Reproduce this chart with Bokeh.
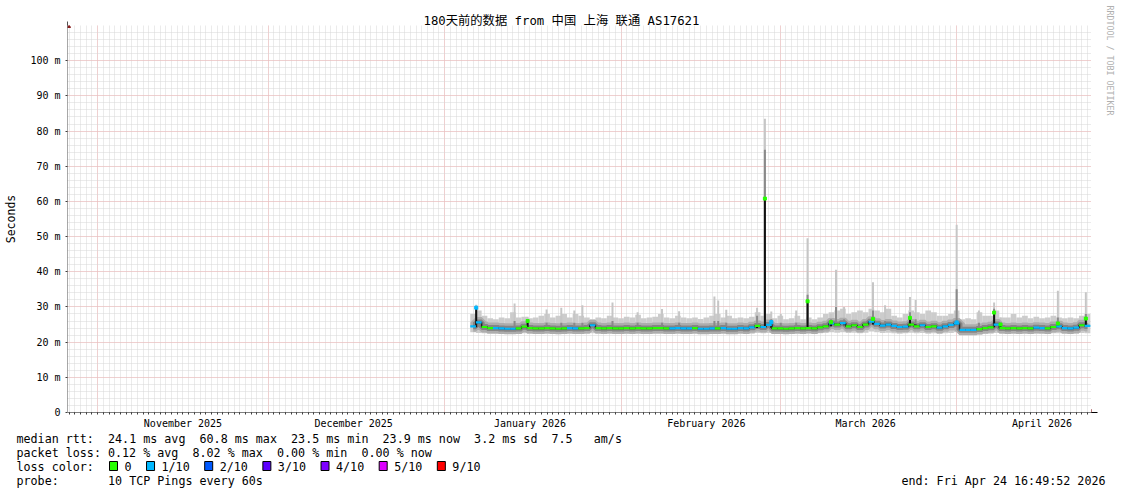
import re
import pandas as pd
from bokeh.plotting import figure
from bokeh.layouts import column, row
from bokeh.models import (Range1d, FixedTicker, DatetimeTickFormatter, CustomJSTickFormatter,
                          Arrow, NormalHead, ColumnDataSource, Title)
from bokeh.core.properties import value
from bokeh.embed import file_html
from bokeh.resources import INLINE

# ------------------------------------------------------------------ data
TITLE = "180天前的数据 from 中国 上海 联通 AS17621"
Y_LABEL = "Seconds"
WATERMARK = "RRDTOOL / TOBI OETIKER"
END_TIME = "2026-04-24 16:49:52"
SPAN_DAYS = 180
Y_MAX_MS = 110
Y_TICKS_MS = [0, 10, 20, 30, 40, 50, 60, 70, 80, 90, 100]
Y_MINOR_MS = list(range(0, 111, 2))

FIRST_DAY = "2026-01-06"   # daily bins, one value per day
day_median = [24.5, 25.6, 24.3, 24.0, 24.0, 23.9, 23.8, 23.8, 23.9, 24.4,
              24.0, 23.9, 23.9, 24.0, 23.9, 23.8, 23.9, 24.0, 23.9, 23.9,
              24.0, 24.8, 24.0, 23.9, 24.0, 23.9, 23.9, 24.0, 23.9, 24.0,
              23.9, 23.9, 24.0, 24.0, 23.9, 23.9, 24.0, 23.9, 23.9, 24.0,
              23.8, 23.8, 23.9, 23.9, 24.0, 23.8, 23.8, 24.0, 23.9, 24.2,
              24.6, 24.3, 24.9, 23.9, 23.9, 23.8, 23.9, 24.0, 23.9, 24.0,
              23.9, 24.2, 24.5, 25.3, 25.0, 25.4, 24.5, 24.8, 24.3, 25.0,
              25.8, 25.2, 24.7, 25.0, 24.6, 24.3, 24.4, 25.0, 24.5, 24.8,
              24.3, 24.5, 24.1, 24.5, 24.9, 25.3, 23.5, 23.5, 23.5, 23.7,
              24.0, 24.2, 25.0, 24.0, 23.9, 24.0, 23.9, 24.0, 23.9, 24.1,
              24.0, 23.9, 24.3, 24.5, 24.0, 23.9, 24.1, 24.8, 24.6]
day_max = [28.0, 29.0, 27.5, 26.8, 26.5, 27.0, 26.8, 28.5, 27.0, 27.2,
           26.8, 27.0, 27.5, 28.0, 27.0, 27.5, 28.0, 27.0, 28.0, 27.5,
           27.0, 26.5, 27.0, 26.8, 27.5, 27.0, 26.8, 27.2, 27.0, 27.8,
           26.8, 27.0, 27.2, 28.0, 27.0, 26.8, 27.5, 27.0, 26.8, 27.0,
           26.6, 27.0, 27.5, 28.0, 27.0, 27.5, 26.8, 27.0, 26.8, 27.2,
           28.5, 27.5, 28.0, 26.8, 27.5, 26.5, 26.8, 27.5, 26.5, 27.0,
           26.5, 27.0, 28.0, 28.5, 29.0, 29.5, 28.0, 28.5, 29.0, 28.5,
           29.5, 29.0, 28.5, 29.5, 27.5, 27.0, 28.0, 29.0, 28.5, 28.0,
           29.0, 28.5, 27.5, 27.5, 28.0, 29.0, 26.5, 26.8, 26.5, 28.5,
           27.5, 27.5, 29.0, 27.0, 27.0, 28.0, 27.0, 27.5, 26.8, 27.2,
           26.8, 27.0, 27.5, 27.0, 26.8, 27.0, 26.8, 27.5, 28.0]
day_min = [22.8, 22.6, 22.5, 22.4, 22.4, 22.3, 22.3, 22.4, 22.4, 22.5,
           22.4, 22.4, 22.3, 22.4, 22.4, 22.3, 22.4, 22.4, 22.3, 22.4,
           22.4, 22.5, 22.4, 22.3, 22.4, 22.4, 22.4, 22.3, 22.4, 22.4,
           22.3, 22.4, 22.4, 22.4, 22.3, 22.4, 22.4, 22.3, 22.3, 22.4,
           22.3, 22.3, 22.4, 22.4, 22.4, 22.3, 22.3, 22.4, 22.3, 22.4,
           22.6, 22.5, 22.6, 22.4, 22.4, 22.3, 22.4, 22.4, 22.4, 22.5,
           22.4, 22.5, 22.6, 22.8, 22.7, 22.8, 22.6, 22.7, 22.5, 22.7,
           23.0, 22.8, 22.6, 22.7, 22.5, 22.4, 22.5, 22.7, 22.5, 22.6,
           22.4, 22.5, 22.3, 22.5, 22.6, 22.8, 22.1, 22.1, 22.1, 22.2,
           22.3, 22.4, 22.6, 22.4, 22.3, 22.4, 22.3, 22.4, 22.3, 22.4,
           22.4, 22.3, 22.5, 22.5, 22.4, 22.3, 22.4, 22.6, 22.5]
day_loss = [1, 1, 0, 0, 1, 1, 1, 1, 0, 0,
            0, 0, 0, 0, 0, 0, 0, 1, 1, 0,
            0, 1, 0, 0, 0, 0, 0, 0, 0, 0,
            0, 0, 0, 0, 0, 1, 1, 1, 1, 0,
            1, 1, 1, 0, 1, 1, 1, 1, 1, 1,
            0, 1, 1, 0, 0, 0, 0, 0, 0, 0,
            0, 0, 0, 1, 0, 1, 0, 0, 0, 0,
            1, 1, 1, 1, 1, 1, 1, 0, 0, 1,
            0, 0, 1, 1, 1, 1, 1, 1, 1, 0,
            0, 0, 1, 0, 0, 0, 0, 0, 0, 1,
            1, 0, 0, 1, 1, 1, 1, 0, 1]

# short events (narrow spikes)
spike_time = ["2026-01-06 13:00", "2026-01-13 07:00", "2026-01-15 14:00", "2026-01-18 22:00",
              "2026-01-21 12:00", "2026-01-23 19:00", "2026-01-25 05:00", "2026-01-30 12:00",
              "2026-02-03 22:00", "2026-02-08 05:00", "2026-02-11 05:00", "2026-02-17 10:00",
              "2026-02-18 02:00", "2026-02-19 12:00", "2026-02-24 22:00", "2026-02-26 07:00",
              "2026-02-27 10:00", "2026-03-01 02:00", "2026-03-03 19:00", "2026-03-05 19:00",
              "2026-03-09 22:00", "2026-03-10 19:00", "2026-03-12 05:00", "2026-03-17 07:00",
              "2026-03-19 10:00", "2026-03-23 19:00", "2026-03-24 19:00", "2026-04-01 00:00",
              "2026-04-04 22:00", "2026-04-07 14:00", "2026-04-08 17:00", "2026-04-18 19:00",
              "2026-04-23 17:00"]
spike_base = [24.2, 23.9, 24.0, 23.9, 23.9, 23.9, 23.9, 23.9, 23.9, 24.0, 23.9, 23.8,
              23.8, 23.8, 24.0, 24.0, 24.0, 23.9, 23.9, 24.0, 24.5, 25.0, 24.8, 25.0,
              24.8, 24.5, 24.7, 25.0, 23.5, 24.2, 24.0, 24.2, 24.8]
spike_median = [29.8, 24.0, 26.0, 24.0, 24.0, 24.0, 24.0, 24.0, 24.0, 24.0, 24.0, 23.9,
                23.9, 23.9, 24.5, 60.8, 25.7, 23.9, 24.0, 31.6, 25.7, 25.2, 25.0, 26.6,
                24.8, 26.9, 25.0, 25.6, 23.6, 28.4, 25.0, 25.3, 26.7]
spike_dark = [30.0, 26.0, 26.5, 25.5, 25.5, 25.5, 25.5, 26.0, 25.5, 25.5, 25.5, 26.0,
              26.0, 25.5, 27.5, 74.7, 26.5, 25.5, 25.5, 33.5, 26.5, 30.0, 26.5, 29.0,
              26.0, 28.5, 26.5, 35.0, 25.5, 29.5, 25.5, 27.0, 28.0]
spike_max = [30.6, 31.0, 27.2, 29.3, 29.8, 29.0, 30.5, 31.3, 28.5, 29.4, 28.8, 33.0,
             31.8, 29.2, 29.8, 83.5, 28.7, 28.0, 29.0, 49.5, 28.0, 40.6, 30.0, 37.0,
             30.5, 32.8, 32.0, 53.4, 29.0, 31.3, 27.0, 34.6, 34.2]
spike_loss = [1, 0, 0, 0, 0, 0, 0, 0, 0, 0, 0, 1, 1, 1, 0, 0, 1, 0, 0, 0, 0, 1, 0, 0,
              1, 0, 0, 1, 1, 0, 0, 0, 0]

loss_names = ["0", "1/10", "2/10", "3/10", "4/10", "5/10", "9/10"]
loss_colors = ["#26ff00", "#00b8ff", "#0059ff", "#5e00ff", "#7e00ff", "#dd00ff", "#ff0000"]

LEGEND_RTT = "median rtt:  24.1 ms avg  60.8 ms max  23.5 ms min  23.9 ms now  3.2 ms sd  7.5   am/s"
LEGEND_LOSS = "packet loss: 0.12 % avg  8.02 % max  0.00 % min  0.00 % now"
LEGEND_COLOR = "loss color:"
LEGEND_PROBE = "probe:       10 TCP Pings every 60s"
END_TEXT = "end: Fri Apr 24 16:49:52 2026"

# ------------------------------------------------------------------ layout / style
MONO = "'DejaVu Sans Mono', 'Noto Sans CJK SC'"
PAGE_W, PAGE_H = 1121, 494
MAIN_H = 432
FRAME_L, FRAME_R, FRAME_T, FRAME_B = 67, 1091, 25, 412   # page pixels
CHAR_W = 7.04
LEGEND_FS = "11.7px"

end = pd.Timestamp(END_TIME)
start = end - pd.Timedelta(days=SPAN_DAYS)

p = figure(width=PAGE_W, height=MAIN_H, x_axis_type="datetime",
           x_range=Range1d(start, end), y_range=Range1d(0, Y_MAX_MS),
           output_backend="svg", toolbar_location=None, title=TITLE,
           min_border_left=FRAME_L, min_border_right=PAGE_W - FRAME_R,
           min_border_top=FRAME_T, min_border_bottom=MAIN_H - FRAME_B,
           background_fill_color="white", border_fill_color="white",
           outline_line_color=None)

p.title.align = "left"
p.title.offset = 423 - FRAME_L
p.title.standoff = -5
p.title.vertical_align = "bottom"
p.title.text_font = MONO
p.title.text_font_size = "12.3px"
p.title.text_font_style = "normal"
p.title.text_color = "#000000"

# right side: spacer then vertical watermark
p.add_layout(Title(text=" ", text_font=MONO, text_font_size="10px", standoff=0,
                   text_color="#ffffff"), "right")
p.add_layout(Title(text=WATERMARK, align="left", offset=5 - FRAME_T, standoff=0,
                   vertical_align="bottom", text_font=MONO, text_font_size="8.3px",
                   text_font_style="normal", text_color="#b0b0b0"), "right")

# ticks and grid
month_starts = pd.date_range(start.normalize(), end, freq="MS")
month_mid = [m + pd.Timedelta(days=15) for m in month_starts]
days = pd.date_range(start.normalize() + pd.Timedelta(days=1), end, freq="D")
to_ms = lambda idx: [float(pd.Timestamp(t).value // 10**6) for t in idx]

p.xgrid.ticker = FixedTicker(ticks=to_ms(month_starts), minor_ticks=to_ms(days))
p.ygrid.ticker = FixedTicker(ticks=Y_TICKS_MS, minor_ticks=Y_MINOR_MS)
for g in (p.xgrid[0], p.ygrid[0]):
    g.grid_line_color = "#f3b4b4"
    g.grid_line_dash = "1 1"
    g.grid_line_width = 1
    g.minor_grid_line_color = "#d6d6d6"
    g.minor_grid_line_dash = "1 1"
    g.minor_grid_line_width = 1

xa = p.xaxis[0]
xa.ticker = FixedTicker(ticks=to_ms(month_mid), minor_ticks=to_ms(days))
fmt = "%B %Y"
xa.formatter = DatetimeTickFormatter(milliseconds=fmt, seconds=fmt, minsec=fmt, minutes=fmt,
                                     hourmin=fmt, hours=fmt, days=fmt, months=fmt, years=fmt)
xa.axis_line_color = None
xa.major_tick_line_color = None
xa.major_tick_out = 0
xa.major_tick_in = 0
xa.minor_tick_out = 2
xa.minor_tick_in = 0
xa.minor_tick_line_color = "#404040"
xa.major_label_standoff = 3
xa.major_label_text_font = MONO
xa.major_label_text_font_size = "10px"
xa.major_label_text_color = "#000000"

ya = p.yaxis[0]
ya.ticker = FixedTicker(ticks=Y_TICKS_MS, minor_ticks=[])
ya.formatter = CustomJSTickFormatter(code="return tick == 0 ? '0' : tick.toFixed(0) + ' m';")
ya.axis_line_color = None
ya.major_tick_out = 2
ya.major_tick_in = 0
ya.major_tick_line_color = "#404040"
ya.major_label_standoff = 5
ya.major_label_text_font = MONO
ya.major_label_text_font_size = "10px"
ya.major_label_text_color = "#000000"
ya.axis_label = Y_LABEL
ya.axis_label_text_font = MONO
ya.axis_label_text_font_size = "11.5px"
ya.axis_label_text_font_style = "normal"
ya.axis_label_text_color = "#000000"
ya.axis_label_standoff = 9

# ------------------------------------------------------------------ data marks
DAY = 86400000
dd = pd.date_range(FIRST_DAY, periods=len(day_median), freq="D")
src = ColumnDataSource(dict(
    x=dd, x0=dd - pd.Timedelta(hours=12), x1=dd + pd.Timedelta(hours=12),
    med=day_median, mx=day_max, mn=day_min,
    col=[loss_colors[k] for k in day_loss]))

st = pd.to_datetime(spike_time)
ssrc = ColumnDataSource(dict(x=st, base=spike_base, med=spike_median,
                             dark=spike_dark, mx=spike_max))
tops = [i for i in range(len(spike_time)) if spike_median[i] - spike_base[i] > 0.5]
tsrc = ColumnDataSource(dict(x=st[tops], y=[spike_median[i] for i in tops],
                             col=[loss_colors[spike_loss[i]] for i in tops]))

p.vbar(x="x", width=DAY, bottom="mn", top="mx", source=src, fill_color="#cccccc", line_color=None)
p.vbar(x="x", width=0.35 * DAY, bottom="base", top="mx", source=ssrc, fill_color="#c6c6c6", line_color=None)
p.step(x="x", y="med", mode="center", source=src, line_width=11, line_color="#adadad")
p.vbar(x="x", width=0.35 * DAY, bottom="base", top="dark", source=ssrc, fill_color="#8a8a8a", line_color=None)
p.step(x="x", y="med", mode="center", source=src, line_width=6, line_color="#858585")
p.vbar(x="x", width=0.35 * DAY, bottom="base", top="med", source=ssrc, fill_color="#111111", line_color=None)
p.step(x="x", y="med", mode="center", source=src, line_width=1.5, line_color="#222222")
p.segment(x0="x0", x1="x1", y0="med", y1="med", source=src, line_color="col", line_width=2.2)
p.scatter(x="x", y="y", source=tsrc, marker="square", size=3, fill_color="col", line_color="col")

# axis arrows
ARROW_C = "#861c1c"
p.add_layout(Arrow(x_start=0, y_start=0, x_end=0, y_end=FRAME_B - 21,
                   start_units="screen", end_units="screen", line_color="#505050", line_width=1,
                   end=NormalHead(size=6, fill_color=ARROW_C, line_color=ARROW_C)))
p.add_layout(Arrow(x_start=0, y_start=0, x_end=1097 - FRAME_L, y_end=0,
                   start_units="screen", end_units="screen", line_color="#000000", line_width=1,
                   end=NormalHead(size=6, fill_color=ARROW_C, line_color=ARROW_C)))

# ------------------------------------------------------------------ legend strip
leg = figure(width=PAGE_W, height=PAGE_H - MAIN_H, x_range=Range1d(0, PAGE_W),
             y_range=Range1d(PAGE_H, MAIN_H), output_backend="svg", toolbar_location=None,
             min_border=0, x_axis_location=None, y_axis_location=None,
             outline_line_color=None, background_fill_color="white",
             border_fill_color="white")
leg.grid.visible = False

LEFT = 16
tx, ty, tt = [], [], []


def text_row(yp, s):
    for m in re.finditer(r"\S+(?: \S+)*", s):
        tx.append(LEFT + m.start() * CHAR_W)
        ty.append(yp)
        tt.append(m.group())


text_row(438, LEGEND_RTT)
text_row(452, LEGEND_LOSS)
text_row(480, LEGEND_PROBE)
text_row(466, LEGEND_COLOR)
bl, br = [], []
bx = 109
for name in loss_names:
    bl.append(bx)
    br.append(bx + 8)
    tx.append(bx + 15)
    ty.append(466)
    tt.append(name)
    bx = bx + 15 + len(name) * CHAR_W + 15

leg.text(x=tx, y=ty, text=tt, text_font=value(MONO), text_font_size=value(LEGEND_FS),
         text_color="#000000", text_align="left", text_baseline="middle")
leg.text(x=[1105], y=[480], text=[END_TEXT], text_font=value(MONO),
         text_font_size=value(LEGEND_FS), text_color="#000000", text_align="right",
         text_baseline="middle")
leg.quad(left=bl, right=br, top=[461] * len(bl), bottom=[470] * len(bl),
         fill_color=loss_colors, line_color="#000000", line_width=1)

layout = column(p, row(leg))
open("out.html", "w").write(file_html(layout, INLINE))
